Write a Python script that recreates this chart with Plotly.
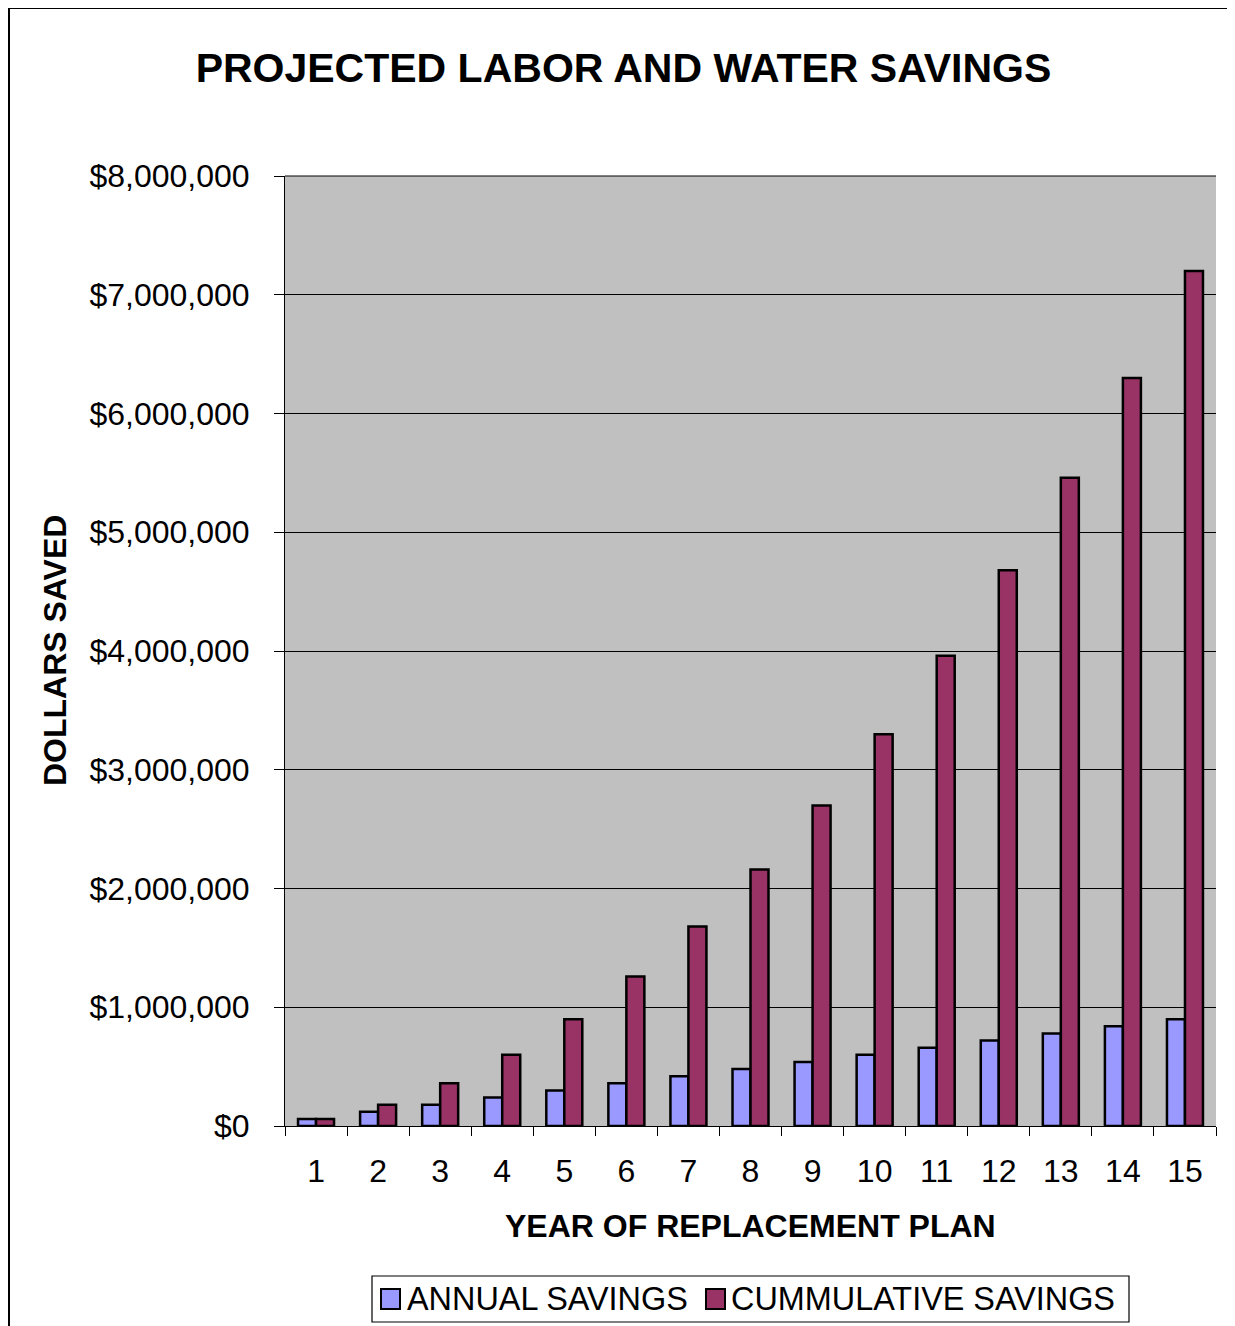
import plotly.graph_objects as go

years = [str(i) for i in range(1, 16)]
annual_savings = [60000, 120000, 180000, 240000, 300000, 360000, 420000, 480000,
                  540000, 600000, 660000, 720000, 780000, 840000, 900000]
cumulative_savings = [60000, 180000, 360000, 600000, 900000, 1260000, 1680000, 2160000,
                      2700000, 3300000, 3960000, 4680000, 5460000, 6300000, 7200000]
y_tick_vals = [0, 1000000, 2000000, 3000000, 4000000, 5000000, 6000000, 7000000, 8000000]
y_tick_text = ["$0", "$1,000,000", "$2,000,000", "$3,000,000", "$4,000,000",
               "$5,000,000", "$6,000,000", "$7,000,000", "$8,000,000"]
series_names = ["ANNUAL SAVINGS", "CUMMULATIVE SAVINGS"]
series_colors = ["#9999FF", "#993366"]

# page has an 8px body margin; work in page coordinates and convert
OFF = 8
W, H = 1235, 1326
PL, PR, PT, PB = 285, 1216, 176, 1126          # plot area in page px
L, R, T, B = PL - OFF, W - (PR - OFF), PT - OFF, H - (PB - OFF)
PW, PH = W - L - R, H - T - B

def px_x(x):
    return (x - OFF - L) / PW

def px_y(y):
    return 1 - (y - OFF - T) / PH

FONT = "Liberation Sans, Arial, Helvetica, sans-serif"

fig = go.Figure()
for vals, name, col in zip([annual_savings, cumulative_savings], series_names, series_colors):
    fig.add_trace(go.Bar(x=years, y=vals, name=name,
                         marker=dict(color=col, line=dict(color="black", width=2.5))))

shapes = [
    dict(type="line", xref="paper", yref="paper", x0=0, x1=1, y0=1, y1=1,
         line=dict(color="black", width=1)),
    # outer frame (left and top)
    dict(type="line", xref="paper", yref="paper", x0=px_x(9), x1=px_x(9),
         y0=px_y(7), y1=px_y(1345), line=dict(color="black", width=2)),
    dict(type="line", xref="paper", yref="paper", x0=px_x(8), x1=px_x(1250),
         y0=px_y(8), y1=px_y(8), line=dict(color="black", width=2)),
    # legend box
    dict(type="rect", xref="paper", yref="paper", x0=px_x(372), x1=px_x(1129),
         y0=px_y(1322), y1=px_y(1276), line=dict(color="black", width=1.2),
         fillcolor="white"),
]
annotations = [
    dict(text="<b>DOLLARS SAVED</b>", textangle=-90, xref="paper", yref="paper",
         x=px_x(55), y=px_y(651), xanchor="center", yanchor="middle", showarrow=False,
         font=dict(size=32, family=FONT, color="black")),
    dict(text="<b>YEAR OF REPLACEMENT PLAN</b>", xref="paper", yref="paper",
         x=px_x(750.5), y=px_y(1226), xanchor="center", yanchor="middle", showarrow=False,
         font=dict(size=32, family=FONT, color="black")),
]
legend_swatch_x = [381, 706]
legend_text_x = [410, 734]
for sx, tx, name, col in zip(legend_swatch_x, legend_text_x, series_names, series_colors):
    shapes.append(dict(type="rect", xref="paper", yref="paper",
                       x0=px_x(sx), x1=px_x(sx + 19), y0=px_y(1309), y1=px_y(1289),
                       fillcolor=col, line=dict(color="black", width=2)))
    annotations.append(dict(text=name, xref="paper", yref="paper",
                            x=px_x(tx - 5), y=px_y(1299), xanchor="left", yanchor="middle",
                            showarrow=False,
                            font=dict(size=32.4, family=FONT, color="black")))

fig.update_layout(
    width=W, height=H,
    margin=dict(l=L, r=R, t=T, b=B, autoexpand=False),
    paper_bgcolor="white",
    plot_bgcolor="#C0C0C0",
    barmode="group",
    bargap=0.42,
    bargroupgap=0,
    font=dict(family=FONT, color="black", size=32),
    title=dict(text="<b>PROJECTED LABOR AND WATER SAVINGS</b>",
               font=dict(size=41, family=FONT, color="black"),
               x=(623.5 - OFF) / W, xref="container", xanchor="center",
               y=1 - (68 - OFF) / H, yref="container", yanchor="middle"),
    showlegend=False,
    xaxis=dict(type="category", showline=True, linecolor="black", linewidth=1,
               ticks="outside", tickson="boundaries", ticklen=9, tickcolor="black",
               tickfont=dict(size=32, family=FONT), ticklabelstandoff=17,
               showgrid=False, zeroline=False, fixedrange=True),
    yaxis=dict(range=[0, 8000000], tickvals=y_tick_vals, ticktext=y_tick_text,
               showline=True, linecolor="black", linewidth=1,
               ticks="outside", ticklen=10, tickcolor="black",
               tickfont=dict(size=32, family=FONT), ticklabelstandoff=18,
               showgrid=True, gridcolor="black", gridwidth=1, zeroline=False,
               fixedrange=True),
    shapes=shapes,
    annotations=annotations,
)

fig.write_html("out.html")
